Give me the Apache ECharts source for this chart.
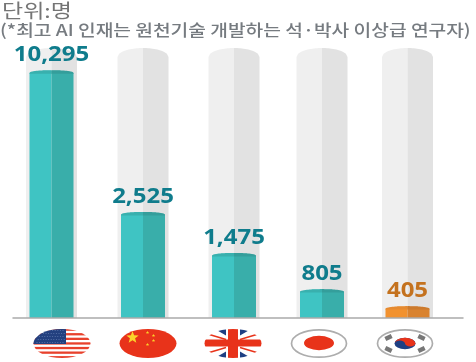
<!DOCTYPE html>
<html>
<head>
<meta charset="utf-8">
<style>
html,body{margin:0;padding:0;background:#fff}
#c{width:476px;height:362px;filter:blur(0.5px)}
</style>
<script src="https://cdn.jsdelivr.net/npm/echarts@6/dist/echarts.min.js"></script>
</head>
<body>
<div id="c"></div>
<script>
const unitText = '단위:명';
const noteText = '(*최고 AI 인재는 원천기술 개발하는 석·박사 이상급 연구자)';
const countries = ['미국', '중국', '영국', '일본', '한국'];
const headcounts = [10295, 2525, 1475, 805, 405];
// The source graphic is not drawn to a linear scale: fill height as % of the grey tube
const fillLevels = [91.8, 39.3, 24.1, 10.7, 4.4];
const trackLevel = [100, 100, 100, 100, 100];

// Layout (px offsets from each category's band centre; source spacing is uneven)
const barOffsets = [-6.5, -5, -4, -6, -10.5];
const flagOffsets = [4, 0, -5, -9, -13];

const flagW = 58, flagH = 30;
function svgFlag(inner, ring) {
  const s = `<svg xmlns="http://www.w3.org/2000/svg" width="${flagW*2}" height="${flagH*2}" viewBox="0 0 58 30">` +
    `<defs><clipPath id="e"><ellipse cx="29" cy="15" rx="28.5" ry="14.5"/></clipPath></defs>` +
    `<g clip-path="url(#e)">${inner}</g>` +
    (ring ? `<ellipse cx="29" cy="15" rx="27.5" ry="13.7" fill="none" stroke="#adadad" stroke-width="1.7"/>` : '') +
    `</svg>`;
  return 'data:image/svg+xml;charset=utf-8,' + encodeURIComponent(s);
}
function usFlag() {
  let g = '<rect width="58" height="30" fill="#fff"/>';
  for (let i = 0; i < 7; i++) g += `<rect y="${i*4.6}" width="58" height="2.3" fill="#e8412c"/>`;
  g += '<rect width="33" height="15.5" fill="#23407f"/>';
  for (let r = 0; r < 5; r++) for (let c = 0; c < 11; c++)
    g += `<circle cx="${4+c*2.6+(r%2)*1.2}" cy="${2+r*3}" r="0.55" fill="#5f78ad"/>`;
  return svgFlag(g);
}
function cnFlag() {
  const star = (x,y,r) => {
    let p = [];
    for (let i = 0; i < 10; i++) {
      const a = -Math.PI/2 + i*Math.PI/5, q = i%2 ? r*0.42 : r;
      p.push((x+q*Math.cos(a)).toFixed(2)+','+(y+q*Math.sin(a)).toFixed(2));
    }
    return `<polygon points="${p.join(' ')}" fill="#fbd32a"/>`;
  };
  return svgFlag('<rect width="58" height="30" fill="#e8331a"/>' + star(13.5,9,6.5) +
    star(28.5,4,1.8) + star(34.5,7,1.8) + star(34.5,12,1.8) + star(28.5,16,1.8));
}
function ukFlag() {
  const g = '<rect width="58" height="30" fill="#fff"/>' +
    '<polygon points="10,0 22,0 22,7" fill="#1e3f83"/><polygon points="36,0 48,0 36,7" fill="#1e3f83"/>' +
    '<polygon points="10,30 22,30 22,23" fill="#1e3f83"/><polygon points="36,30 48,30 36,23" fill="#1e3f83"/>' +
    '<line x1="2" y1="5" x2="22" y2="11" stroke="#e8331a" stroke-width="1.4"/><line x1="56" y1="5" x2="36" y2="11" stroke="#e8331a" stroke-width="1.4"/>' +
    '<line x1="2" y1="25" x2="22" y2="19" stroke="#e8331a" stroke-width="1.4"/><line x1="56" y1="25" x2="36" y2="19" stroke="#e8331a" stroke-width="1.4"/>' +
    '<rect x="24" width="10" height="30" fill="#e8331a"/><rect y="11" width="58" height="7" fill="#e8331a"/>';
  return svgFlag(g);
}
function jpFlag() {
  return svgFlag('<rect width="58" height="30" fill="#fff"/><ellipse cx="29" cy="14.5" rx="15" ry="7.2" fill="#e8331a"/>', true);
}
function krFlag() {
  let g = '<rect width="58" height="30" fill="#fff"/>';
  g += '<ellipse cx="29" cy="15" rx="10.5" ry="5.8" fill="#1e3f83"/>';
  g += '<path d="M18.5 15 A10.5 5.8 0 0 1 39.5 15 A5.25 2.9 0 0 1 29 15 A5.25 2.9 0 0 0 18.5 15Z" fill="#e8331a"/>';
  [[12.5,9,-25],[45.5,9,25],[12.5,21,25],[45.5,21,-25]].forEach(([x,y,a]) => {
    g += `<rect x="${x-3.5}" y="${y-2.2}" width="7" height="4.4" fill="#777" transform="rotate(${a} ${x} ${y})"/>`;
  });
  return svgFlag(g, true);
}
const flagImages = [usFlag(), cnFlag(), ukFlag(), jpFlag(), krFlag()];

function halfDome(cx, hw, fromX, toX, shoulderY, ry, bottomY) {
  const pts = [[fromX, bottomY]];
  const n = 16;
  for (let i = 0; i <= n; i++) {
    const x = fromX + (toX - fromX) * i / n;
    const t = (x - cx) / hw;
    pts.push([x, shoulderY - ry * Math.sqrt(Math.max(0, 1 - t * t))]);
  }
  pts.push([toX, bottomY]);
  return pts;
}

const trackHW = 25.5, fillHW = 22;
const trackRy = 9, fillRy = 2.5;

const chart = echarts.init(document.getElementById('c'));
chart.setOption({
  animation: false,
  backgroundColor: '#fff',
  graphic: [
    { type: 'text', x: 2, y: 10.5, scaleX: 1.21, style: { text: unitText, fill: '#757575', font: '19px "Noto Sans CJK KR"', verticalAlign: 'middle' } },
    { type: 'text', x: 0, y: 30, scaleX: 1.2, style: { text: noteText, fill: '#767b80', font: '500 16px "Noto Sans CJK KR"', verticalAlign: 'middle' } }
  ],
  grid: { left: 13, right: 13, top: 48, bottom: 44 },
  xAxis: {
    type: 'category', data: countries,
    axisTick: { show: false }, axisLabel: { show: false },
    axisLine: { lineStyle: { color: '#ababab', width: 1.5 } },
    z: 5
  },
  yAxis: { type: 'value', min: 0, max: 100, show: false },
  series: [
    {
      type: 'custom',
      coordinateSystem: 'cartesian2d',
      clip: false,
      encode: { x: 0, y: 1 },
      data: countries.map((c, i) => [i, trackLevel[i]]),
      renderItem(params, api) {
        const i = api.value(0);
        const top = api.coord([i, api.value(1)]);
        const base = api.coord([i, 0]);
        const cx = top[0] + barOffsets[i];
        const shoulder = top[1] + trackRy;
        return { type: 'group', children: [
          { type: 'polygon', shape: { points: halfDome(cx, trackHW, cx - trackHW, cx, shoulder, trackRy, base[1]) }, style: { fill: '#efefef' } },
          { type: 'polygon', shape: { points: halfDome(cx, trackHW, cx, cx + trackHW, shoulder, trackRy, base[1]) }, style: { fill: '#e2e2e2' } }
        ] };
      }
    },
    {
      type: 'custom',
      coordinateSystem: 'cartesian2d',
      clip: false,
      encode: { x: 0, y: 1 },
      data: countries.map((c, i) => [i, fillLevels[i], headcounts[i]]),
      renderItem(params, api) {
        const i = api.value(0);
        const top = api.coord([i, api.value(1)]);
        const base = api.coord([i, 0]);
        const cx = top[0] + barOffsets[i];
        const isLast = i === countries.length - 1;
        const light = isLast ? '#f2922f' : '#3fc4c3';
        const dark = isLast ? '#d98330' : '#39aeaa';
        const capL = isLast ? '#e58a30' : '#39b0ae';
        const capR = isLast ? '#cc7a2c' : '#349e9b';
        const shoulder = top[1] + fillRy;
        return { type: 'group', z2: 5, children: [
          { type: 'polygon', shape: { points: halfDome(cx, fillHW, cx - fillHW, cx, shoulder + 0.5, fillRy, base[1]) }, style: { fill: light } },
          { type: 'polygon', shape: { points: halfDome(cx, fillHW, cx, cx + fillHW, shoulder + 0.5, fillRy, base[1]) }, style: { fill: dark } },
          { type: 'polygon', shape: { points: halfDome(cx, fillHW, cx - fillHW, cx, shoulder, fillRy, shoulder + 1) }, style: { fill: capL } },
          { type: 'polygon', shape: { points: halfDome(cx, fillHW, cx, cx + fillHW, shoulder, fillRy, shoulder + 1) }, style: { fill: capR } },
          { type: 'text', x: cx, y: top[1] - 14.5, scaleX: 1.17, style: {
              text: api.value(2).toLocaleString('en-US'),
              x: 0, y: 0,
              align: 'center', verticalAlign: 'middle',
              fill: isLast ? '#c4721e' : '#0f7c8c',
              font: '700 20.5px "Open Sans"'
          } }
        ] };
      }
    },
    {
      type: 'custom',
      coordinateSystem: 'cartesian2d',
      clip: false,
      silent: true,
      encode: { x: 0, y: 1 },
      data: countries.map((c, i) => [i, 0]),
      renderItem(params, api) {
        const i = api.value(0);
        const base = api.coord([i, 0]);
        const cx = base[0] + flagOffsets[i];
        return { type: 'image', style: { image: flagImages[i], x: cx - flagW / 2, y: base[1] + 10.5, width: flagW, height: flagH } };
      }
    }
  ]
});
</script>
</body>
</html>
